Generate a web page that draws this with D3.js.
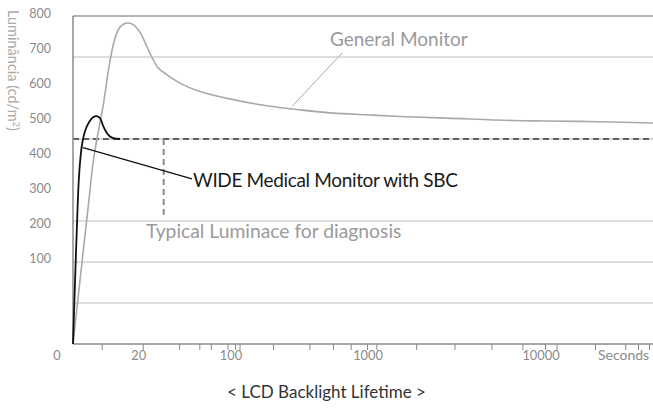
<!DOCTYPE html>
<html>
<head>
<meta charset="utf-8">
<script src="https://cdn.jsdelivr.net/npm/d3@7/dist/d3.min.js"></script>
<style>
  html, body { margin: 0; padding: 0; background: #fff; }
  svg { display: block; font-family: Lato, "Open Sans", sans-serif; }
</style>
</head>
<body>
<svg id="chart" width="653" height="409"></svg>
<script>
// ---- data -------------------------------------------------------------
// Backlight lifetime (seconds) vs. luminance (cd/m²)
const sbcTime  = [0, 0.068, 0.14, 0.212, 0.277, 0.358, 0.482, 0.689, 1.01, 1.40, 1.79, 2.25, 2.76, 3.36, 4.03, 4.81, 6.8];
const sbcLum   = [0, 113, 223, 320, 391, 442, 486, 519, 541, 553, 556, 551, 531, 515, 506, 502, 500];

const genTime  = [0, 0.501, 1.01, 1.42, 2.02, 2.76, 3.67, 4.81, 6.23, 7.99, 10.2, 12.9, 18.1, 21.5, 23.5, 26.4, 30.6, 40.9, 54.7, 97, 171, 299, 523, 915, 1450, 2700, 6550, 10000, 15700, 26200, 40000];
const genLum   = [0, 206, 352, 445, 518, 584, 665, 730, 767, 780, 783, 779, 758, 726, 700, 673, 657, 632, 616, 596, 581, 571, 563, 559, 555, 551, 545, 544, 543, 541, 539];

const typicalLum = 500;        // recommended luminance for diagnosis
const typicalTime = 29;        // marker for the typical level
const typicalMarkerLow = 315;

const gridLum = [100, 200, 300, 700, 800];
const yLabels = [100, 200, 300, 400, 500, 600, 700, 800];
const xTicks = [2.5, 20, 38, 54, 66, 88, 100, 108, 190, 350, 520, 700, 920, 1060, 1800, 3000, 4900, 7400, 10000, 11600, 19000, 28000, 33000, 38000];
const xLabels = [20, 100, 1000, 10000];

// ---- scales -----------------------------------------------------------
const W = 653, H = 409;
const plotLeft = 73, plotRight = 653, plotTop = 16, plotBottom = 344;

// piecewise symlog: each labelled decade gets its own stretch of the axis
const x = d3.scaleSymlog().constant(1)
  .domain([0, 20, 100, 1000, 10000, 40000])
  .range([plotLeft, 142.7, 235, 372, 545, plotRight]);

const y = d3.scaleLinear().domain([0, 800]).range([plotBottom, plotTop]);

// the printed luminance numbers sit on their own compressed ladder
const yText = d3.scaleLinear().domain([100, 800]).range([258.3, 13.3]);

const svg = d3.select("#chart");
const axisGrey = "#8a8a8a";

// ---- grid & frame -----------------------------------------------------
svg.append("g").selectAll("line").data(gridLum).join("line")
  .attr("x1", plotLeft).attr("x2", plotRight)
  .attr("y1", d => y(d)).attr("y2", d => y(d))
  .attr("stroke", d => d === 800 ? "#9a9a9a" : "#bdbdbd")
  .attr("stroke-width", d => d === 800 ? 1.3 : 1);

// typical luminance level
svg.append("line")
  .attr("x1", plotLeft).attr("x2", plotRight)
  .attr("y1", y(typicalLum)).attr("y2", y(typicalLum))
  .attr("stroke", "#c8c8c8").attr("stroke-width", 1.4);
svg.append("line")
  .attr("x1", plotLeft).attr("x2", plotRight)
  .attr("y1", y(typicalLum)).attr("y2", y(typicalLum))
  .attr("stroke", "#3a3a3a").attr("stroke-width", 1.4)
  .attr("stroke-dasharray", "6,4");

svg.append("line")
  .attr("x1", x(typicalTime)).attr("x2", x(typicalTime))
  .attr("y1", y(typicalLum)).attr("y2", y(typicalMarkerLow))
  .attr("stroke", axisGrey).attr("stroke-width", 2)
  .attr("stroke-dasharray", "6,4");

// x axis ticks
const xAxis = d3.axisBottom(x).tickValues(xTicks).tickSize(6).tickFormat("");
const gx = svg.append("g").attr("transform", `translate(0,${plotBottom})`).call(xAxis);
gx.select(".domain").remove();
gx.selectAll(".tick line").attr("stroke", axisGrey).attr("stroke-width", 1);

// x tick labels
svg.append("g").selectAll("text").data(xLabels).join("text")
  .attr("x", d => x(d)).attr("dx", -4).attr("y", 360)
  .attr("text-anchor", "middle").attr("fill", axisGrey).attr("font-size", 12.8)
  .text(d => d);

// origin and unit labels
svg.append("text").attr("x", 57).attr("y", 360)
  .attr("text-anchor", "middle").attr("fill", axisGrey).attr("font-size", 12.8).text("0");
svg.append("text").attr("x", 598).attr("y", 360)
  .attr("fill", axisGrey).attr("font-size", 14).text("Seconds");

// axis lines
svg.append("line").attr("x1", plotLeft).attr("x2", plotRight).attr("y1", plotBottom).attr("y2", plotBottom)
  .attr("stroke", axisGrey).attr("stroke-width", 1.5);
svg.append("line").attr("x1", plotLeft).attr("x2", plotLeft).attr("y1", plotTop).attr("y2", plotBottom)
  .attr("stroke", axisGrey).attr("stroke-width", 1.5);

// y labels
const yAxis = d3.axisLeft(yText).tickValues(yLabels).tickSize(0).tickPadding(0);
const gy = svg.append("g").attr("transform", "translate(51,0)").call(yAxis);
gy.select(".domain").remove();
gy.selectAll(".tick text").attr("fill", axisGrey).attr("font-size", 12.5).attr("font-family", "Lato, sans-serif");

// y title
const yt = svg.append("text")
  .attr("transform", "translate(8,10) rotate(90)")
  .attr("fill", "#aaaaaa").attr("font-size", 14.5);
yt.append("tspan").text("Luminância (cd/m");
yt.append("tspan").attr("font-size", 9).attr("dy", -5).text("2");
yt.append("tspan").attr("dy", 5).text(")");

// ---- curves -----------------------------------------------------------
const line = d3.line().curve(d3.curveCatmullRom.alpha(0.5)).x(d => x(d[0])).y(d => y(d[1]));

svg.append("path")
  .datum(genTime.map((t, i) => [t, genLum[i]]))
  .attr("d", line).attr("fill", "none")
  .attr("stroke", "#a9a9a9").attr("stroke-width", 1.6);

svg.append("path")
  .datum(sbcTime.map((t, i) => [t, sbcLum[i]]))
  .attr("d", line).attr("fill", "none")
  .attr("stroke", "#111").attr("stroke-width", 1.8);

// ---- annotations ------------------------------------------------------
// General Monitor
svg.append("line")
  .attr("x1", x(261)).attr("y1", y(579))
  .attr("x2", x(606)).attr("y2", y(710))
  .attr("stroke", "#a9a9a9").attr("stroke-width", 1);
svg.append("text").attr("x", x(494)).attr("y", y(727))
  .attr("fill", "#9a9a9a").attr("font-size", 19).text("General Monitor");

// WIDE Medical Monitor with SBC
svg.append("line")
  .attr("x1", x(0.548)).attr("y1", y(479))
  .attr("x2", x(47.6)).attr("y2", y(403))
  .attr("stroke", "#111").attr("stroke-width", 1.3);
svg.append("text").attr("x", x(48.5)).attr("y", y(384))
  .attr("fill", "#1a1a1a").attr("font-size", 19).attr("letter-spacing", -0.35)
  .text("WIDE Medical Monitor with SBC");

// typical level caption
svg.append("text").attr("x", x(21.2)).attr("y", y(259))
  .attr("fill", "#9a9a9a").attr("font-size", 19.3).text("Typical Luminace for diagnosis");

// x title
svg.append("text").attr("x", W / 2).attr("y", 398)
  .attr("text-anchor", "middle").attr("fill", "#333").attr("font-size", 17)
  .text("< LCD Backlight Lifetime >");
</script>
</body>
</html>
